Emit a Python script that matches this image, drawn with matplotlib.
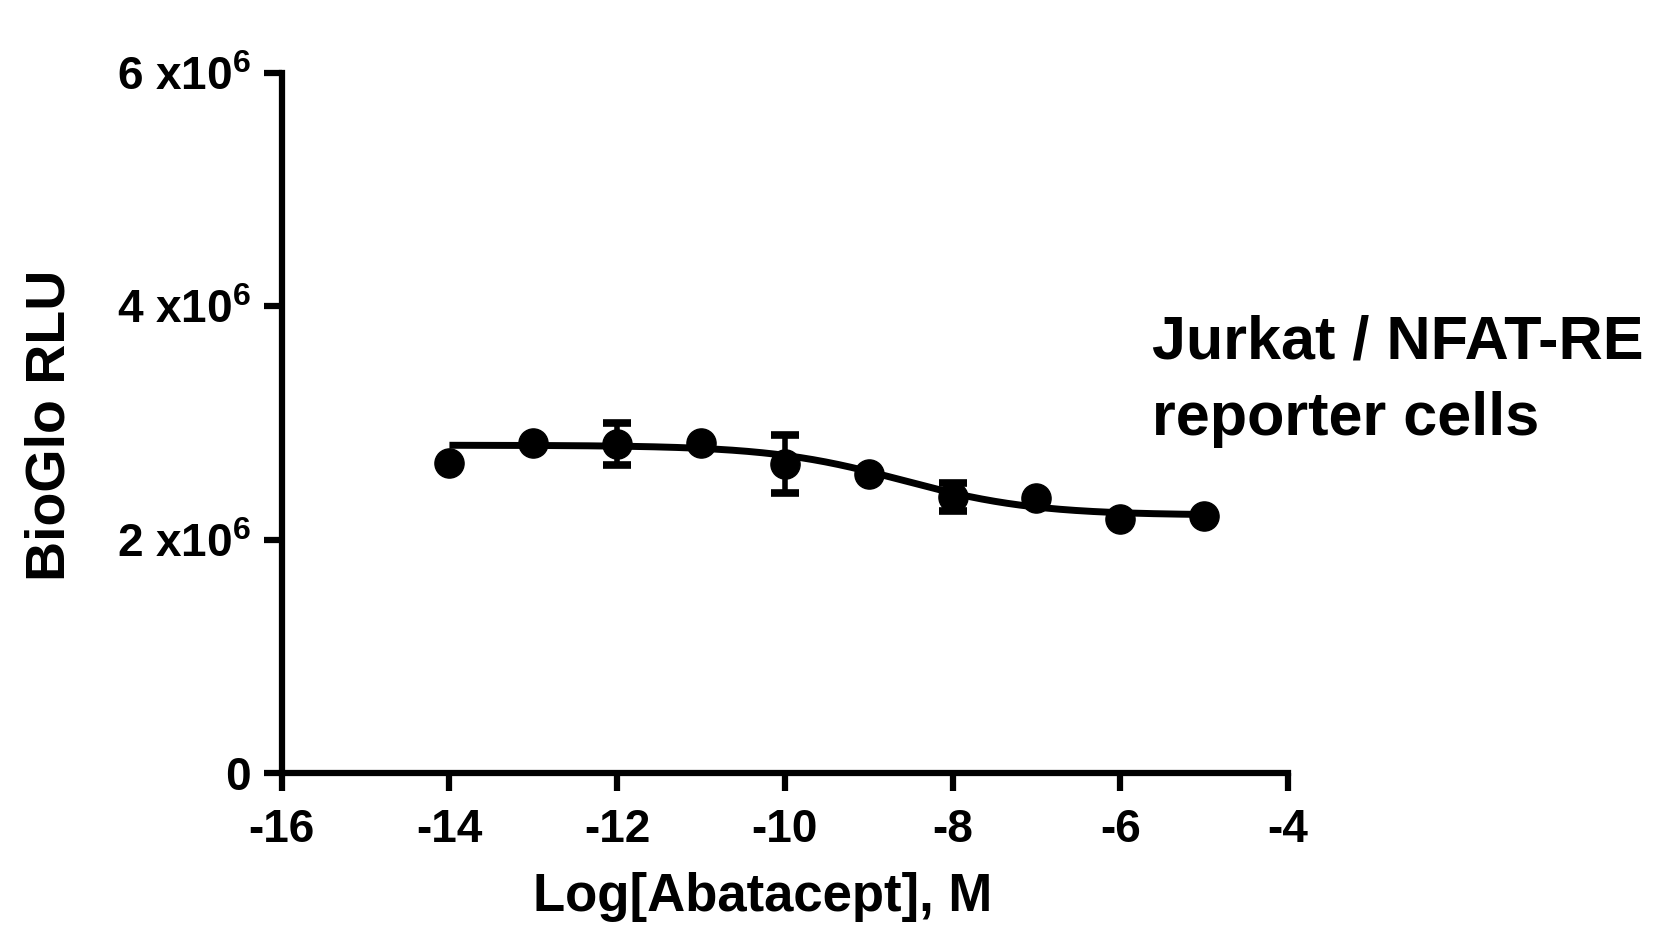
import numpy as np
import matplotlib
matplotlib.use("Agg")
import matplotlib.pyplot as plt

# data (mean +/- error)
log_conc = [-14, -13, -12, -11, -10, -9, -8, -7, -6, -5]
rlu = [2.66e6, 2.83e6, 2.82e6, 2.83e6, 2.65e6, 2.56e6, 2.37e6, 2.36e6, 2.18e6, 2.20e6]
rlu_err = [0, 0, 0.18e6, 0, 0.25e6, 0, 0.12e6, 0, 0, 0]

# 4PL fit parameters
fit_top = 2.81e6
fit_bottom = 2.21e6
fit_logic50 = -8.6
fit_hill = 0.55

xticks = [-16, -14, -12, -10, -8, -6, -4]
yticks = [0, 2e6, 4e6, 6e6]
ytick_labels = ['0', r'2 x10$^{6}$', r'4 x10$^{6}$', r'6 x10$^{6}$']

plt.rcParams['mathtext.default'] = 'regular'
sans = ['Liberation Sans', 'DejaVu Sans']

fig = plt.figure(figsize=(16.72, 9.27), dpi=100)
ax = fig.add_axes([0.1685, 0.1661, 0.6018, 0.7551])

xf = np.linspace(-14, -5, 300)
yf = fit_bottom + (fit_top - fit_bottom) / (1 + 10 ** ((xf - fit_logic50) * fit_hill))
ax.plot(xf, yf, color='black', lw=5, solid_capstyle='butt', zorder=2)

ax.errorbar(log_conc, rlu, yerr=rlu_err, fmt='o', color='black', ms=21,
            elinewidth=4, capsize=10, capthick=5.5, zorder=3)

ax.set_xlim(-16, -4)
ax.set_ylim(0, 6e6)
ax.set_xticks(xticks)
ax.set_xticklabels([str(t) for t in xticks])
ax.set_yticks(yticks)
ax.set_yticklabels(ytick_labels)

for s in ['top', 'right']:
    ax.spines[s].set_visible(False)
for s in ['left', 'bottom']:
    ax.spines[s].set_linewidth(4.5)
    ax.spines[s].set_capstyle('projecting')

ax.tick_params(axis='both', length=13, width=4.5, direction='out')
ax.tick_params(axis='x', pad=12)
ax.tick_params(axis='y', pad=9)
for lab in ax.get_xticklabels() + ax.get_yticklabels():
    lab.set_family(sans)
    lab.set_fontweight('bold')
    lab.set_fontsize(33)

ax.set_xlabel('Log[Abatacept], M', family=sans, fontweight='bold', fontsize=38)
ax.xaxis.set_label_coords(0.478, -0.197)
ax.xaxis.label.set_va('baseline')

ax.set_ylabel('BioGlo RLU', family=sans, fontweight='bold', fontsize=40)
ax.yaxis.set_label_coords(-0.2035, 0.497)

fig.text(1152 / 1672, 1 - 358 / 927, 'Jurkat / NFAT-RE', family=sans,
         fontweight='bold', fontsize=44, va='baseline', ha='left')
fig.text(1152 / 1672, 1 - 435 / 927, 'reporter cells', family=sans,
         fontweight='bold', fontsize=44, va='baseline', ha='left')

fig.savefig('out.png', dpi=100)
